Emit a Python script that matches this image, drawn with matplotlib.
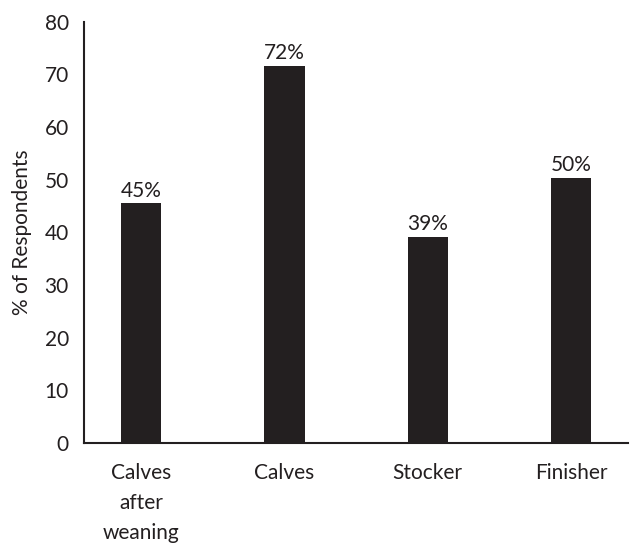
import matplotlib
matplotlib.use("Agg")
import matplotlib.pyplot as plt

categories = ["Calves\nafter\nweaning", "Calves", "Stocker", "Finisher"]
values = [45.5, 71.6, 39.2, 50.4]
labels = ["45%", "72%", "39%", "50%"]
yticks = [0, 10, 20, 30, 40, 50, 60, 70, 80]

INK = "#231f20"
plt.rcParams["font.family"] = ["Lato", "DejaVu Sans"]
FS = 15

fig = plt.figure(figsize=(6.32, 5.45), dpi=100)
ax = fig.add_axes([0.133, 0.187, 0.861, 0.773])

x = range(len(categories))
bars = ax.bar(x, values, width=0.28, color=INK, zorder=3)
for b, lab in zip(bars, labels):
    ax.text(b.get_x() + b.get_width() / 2, b.get_height() + 0.5, lab,
            ha="center", va="bottom", color=INK, fontsize=FS)

ax.set_xlim(-0.4, 3.4)
ax.set_ylim(0, 80)
ax.set_yticks(yticks)
ax.set_xticks(list(x))
ax.set_xticklabels(categories, fontsize=FS, color=INK, linespacing=1.65)
ax.tick_params(axis="y", labelsize=FS, labelcolor=INK, length=0, pad=11)
ax.tick_params(axis="x", length=0, pad=14)
ax.set_ylabel("% of Respondents", fontsize=FS, color=INK, labelpad=9)

for s in ["top", "right"]:
    ax.spines[s].set_visible(False)
for s in ["left", "bottom"]:
    ax.spines[s].set_color(INK)
    ax.spines[s].set_linewidth(1.5)

fig.savefig("out.png", dpi=100)
